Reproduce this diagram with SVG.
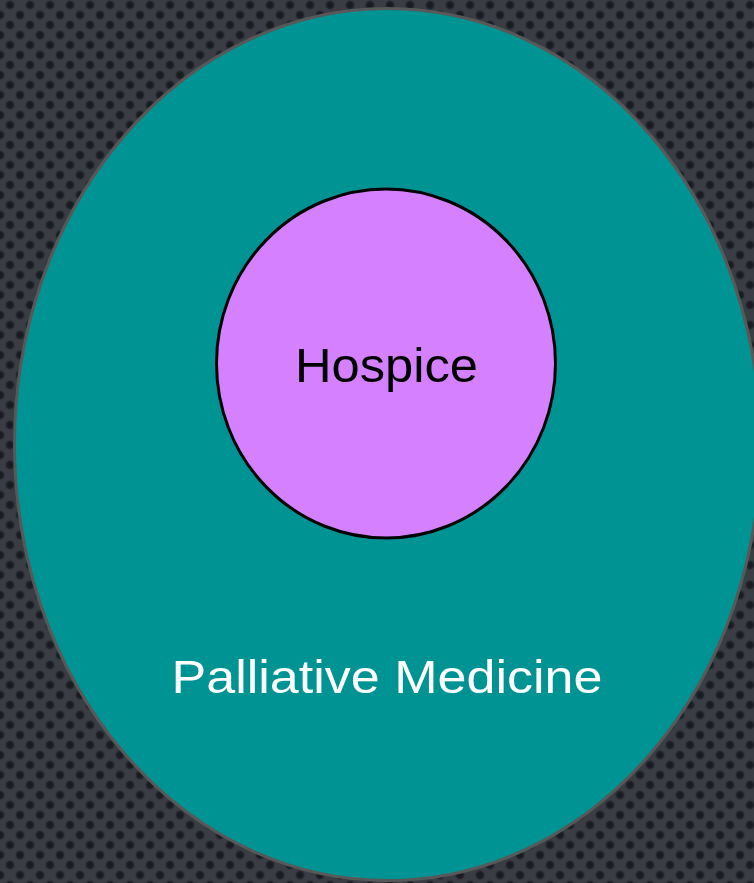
<svg xmlns="http://www.w3.org/2000/svg" width="754" height="883" viewBox="0 0 754 883">
  <defs>
    <radialGradient id="dotShade">
      <stop offset="0" stop-color="#15181d"/>
      <stop offset="0.55" stop-color="#1d2026"/>
      <stop offset="1" stop-color="#3a3d44" stop-opacity="0"/>
    </radialGradient>
    <!-- perforated metal backdrop -->
    <pattern id="perforated" width="20" height="20" patternUnits="userSpaceOnUse">
      <rect width="20" height="20" fill="#3a3d44"/>
      <circle cx="10" cy="5" r="6" fill="url(#dotShade)"/>
      <circle cx="0" cy="15" r="6" fill="url(#dotShade)"/>
      <circle cx="20" cy="15" r="6" fill="url(#dotShade)"/>
      <circle cx="10" cy="25" r="6" fill="url(#dotShade)"/>
      <circle cx="10" cy="-15" r="6" fill="url(#dotShade)"/>
    </pattern>
  </defs>
  <style>
    .outer { fill: #009393; stroke: #585858; stroke-width: 3; }
    .inner { fill: #d580ff; stroke: #000000; stroke-width: 3; }
    .label { font-family: "Liberation Sans", Arial, sans-serif; text-anchor: middle; }
  </style>

  <rect width="754" height="883" fill="url(#perforated)"/>

  <g id="palliative-medicine">
    <ellipse class="outer" cx="387.5" cy="444.5" rx="373" ry="436"/>
    <text class="label" x="387" y="693" font-size="46" fill="#ffffff" textLength="431" lengthAdjust="spacingAndGlyphs">Palliative Medicine</text>
  </g>

  <g id="hospice">
    <ellipse class="inner" cx="386" cy="363.5" rx="169.5" ry="174.5"/>
    <text class="label" x="386.5" y="382" font-size="48" fill="#000000" textLength="183" lengthAdjust="spacingAndGlyphs">Hospice</text>
  </g>
</svg>
